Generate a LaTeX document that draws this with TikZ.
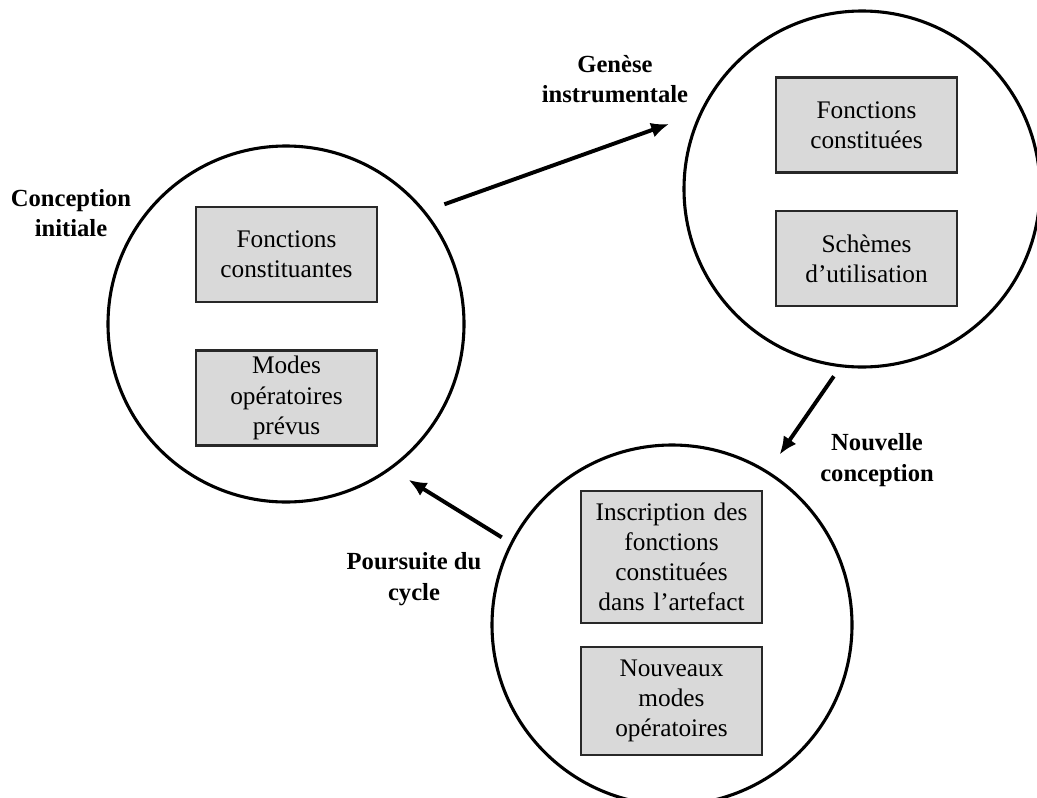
\documentclass[tikz,border=0pt]{standalone}
\usepackage{fontspec}
\setmainfont{Liberation Serif}
\usetikzlibrary{shapes,arrows.meta,positioning,calc}
\definecolor{boxgray}{RGB}{217,217,217}
\definecolor{edgegray}{RGB}{40,40,40}

\tikzset{
  phase/.style={circle, draw=black, line width=2.2pt, minimum size=8.9cm, inner sep=0pt},
  fbox/.style={draw=edgegray, line width=1.5pt, fill=boxgray, minimum width=4.525cm,
    minimum height=2.375cm, text width=4.3cm, align=center, inner sep=0pt,
    font=\fontsize{18}{21.5}\selectfont},
  steplabel/.style={align=center, font=\fontsize{17.5}{21.5}\selectfont\bfseries},
  flow/.style={line width=2.8pt, -{Latex[length=0.45cm,width=0.38cm]}}
}

\begin{document}
\begin{tikzpicture}
  \useasboundingbox (0,0) rectangle (25.925,-19.95);
  % cycles
  \node[phase] (init) at (7.15,-8.1) {};
  \node[phase] (genese) at (21.55,-4.725) {};
  \node[phase, minimum size=9cm] (nouv) at (16.8,-15.625) {};

  \node[fbox] (fcons) at (7.1625,-6.3625) {Fonctions\\constituantes};
  \node[fbox] (modes) at (7.1625,-9.95) {Modes\\opératoires\\prévus};
  \node[fbox] (fconst) at (21.6625,-3.125) {Fonctions\\constituées};
  \node[fbox] (schemes) at (21.6625,-6.4625) {Schèmes\\d’utilisation};
  \node[fbox, minimum height=3.3cm] (inscr) at (16.7875,-13.925) {Inscription des\\fonctions\\constituées\\dans l’artefact};
  \node[fbox, minimum height=2.7cm] (nmodes) at (16.7875,-17.525) {Nouveaux\\modes\\opératoires};

  \node[steplabel] (lbinit) at (1.775,-5.325) {Conception\\initiale};
  \node[steplabel] (lbgenese) at (15.375,-1.975) {Genèse\\instrumentale};
  \node[steplabel] (lbnouv) at (21.925,-11.5) {Nouvelle\\conception};
  \node[steplabel] (lbsuite) at (10.35,-14.475) {Poursuite du\\cycle};

  % transitions
  \draw[flow, shorten <=0.5cm, shorten >=0.8cm] (init.39) -- (genese.155);
  \draw[flow, shorten <=0.275cm, shorten >=0.5cm] (genese.263) -- (nouv.58);
  \draw[flow, shorten <=0.25cm, shorten >=0.5cm] (nouv.153) -- (init.306);
\end{tikzpicture}
\end{document}
